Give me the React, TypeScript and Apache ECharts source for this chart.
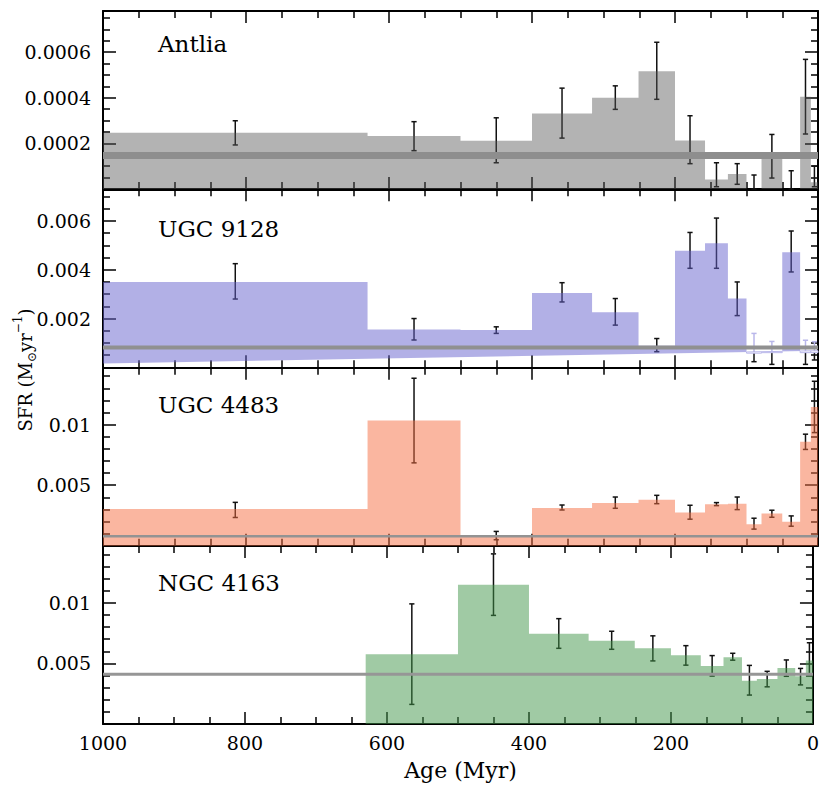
import React, { useEffect, useRef } from "react";
import * as echarts from "echarts";

// ---------- data ----------
const binEdges = [1000, 630, 500, 400, 316, 251, 200, 158, 126, 100, 79, 50, 25, 10, 0];
const galaxyNames = ["Antlia", "UGC 9128", "UGC 4483", "NGC 4163"];

const antliaSfr = [0.000246, 0.000232, 0.000211, 0.000331, 0.0004, 0.000516, 0.000213, 0.000042, 0.000066, 0, 0.00015, 0, 0.000404, 0.00003];
const antliaLo = [0.000193, 0.000168, 0.000115, 0.000223, 0.000349, 0.000393, 0.000111, 0.00001, 0.0000206, 0, 0.000048, 0, 0.000241, 0.00001];
const antliaHi = [0.000299, 0.000295, 0.000312, 0.000442, 0.000452, 0.000643, 0.000321, 0.000115, 0.000111, 0.0000613, 0.000239, 0.00008, 0.000568, 0.0001];
const antliaMean = 0.000147;

const ugc9128Sfr = [0.0035, 0.00155, 0.00153, 0.00305, 0.00226, 0.00088, 0.00478, 0.00509, 0.00282, 0.00058, 0.0006, 0.00472, 0.0006, 0.0006];
const ugc9128Lo = [0.0028, 0.00112, 0.00139, 0.00268, 0.00173, 0.00064, 0.00406, 0.00406, 0.00212, 0.00023, 0.00012, 0.00391, 0.00012, 0.0003];
const ugc9128Hi = [0.00425, 0.002, 0.00166, 0.00347, 0.00282, 0.00118, 0.00553, 0.00612, 0.0035, 0.00139, 0.00106, 0.00559, 0.00111, 0.00105];
const ugc9128Mean = 0.00081;
const ugc9128Base = [0.00016, 0.00068]; // lower edge of the fill at age 1000 and at age 0

const ugc4483Sfr = [0.00303, 0.01033, 0.0008, 0.00311, 0.00352, 0.0038, 0.00274, 0.00342, 0.00347, 0.00178, 0.00266, 0.00197, 0.00858, 0.01145];
const ugc4483Lo = [0.00233, 0.00684, 0.00049, 0.00295, 0.00309, 0.00347, 0.00219, 0.00331, 0.00298, 0.00137, 0.00235, 0.00161, 0.00795, 0.00934];
const ugc4483Hi = [0.00358, 0.01383, 0.00118, 0.00336, 0.00402, 0.00416, 0.00334, 0.00356, 0.00402, 0.00227, 0.00293, 0.00246, 0.00921, 0.01358];
const ugc4483Mean = 0.00078;

const ngc4163Sfr = [null, 0.00576, 0.0115, 0.00745, 0.00688, 0.00625, 0.00568, 0.00478, 0.00551, 0.00358, 0.00372, 0.00462, 0.00394, 0.00524];
const ngc4163Lo = [null, 0.00162, 0.00897, 0.00625, 0.00617, 0.00521, 0.00486, 0.00396, 0.00527, 0.00239, 0.00307, 0.00394, 0.00323, 0.00407];
const ngc4163Hi = [null, 0.00992, 0.01405, 0.0087, 0.00766, 0.00728, 0.00647, 0.00565, 0.00584, 0.00484, 0.00435, 0.00529, 0.00459, 0.00671];
const ngc4163Mean = 0.0041;

const yMaxes = [0.00078, 0.0073, 0.0147, 0.0147];
const yIntervals = [0.0002, 0.002, 0.005, 0.005];
const xTickInterval = 200;
const xLabel = "Age (Myr)";

// ---------- styling ----------
const FONT = "DejaVu Serif";
const panels = [
  { sfr: antliaSfr, lo: antliaLo, hi: antliaHi, mean: antliaMean, base: [0, 0], fill: "rgba(86,86,86,0.45)", meanColor: "#8e8e8e", meanWidth: 7, minorSplit: 4, labelDy: 34 },
  { sfr: ugc9128Sfr, lo: ugc9128Lo, hi: ugc9128Hi, mean: ugc9128Mean, base: ugc9128Base, fill: "rgba(101,97,205,0.5)", meanColor: "#909090", meanWidth: 4, minorSplit: 4, labelDy: 41 },
  { sfr: ugc4483Sfr, lo: ugc4483Lo, hi: ugc4483Hi, mean: ugc4483Mean, base: [0, 0], fill: "rgba(245,109,65,0.5)", meanColor: "#939393", meanWidth: 2.5, minorSplit: 5, labelDy: 39 },
  { sfr: ngc4163Sfr, lo: ngc4163Lo, hi: ngc4163Hi, mean: ngc4163Mean, base: [0, 0], fill: "rgba(65,149,73,0.5)", meanColor: "#969696", meanWidth: 3, minorSplit: 5, labelDy: 38 },
];
const FADED = "#b9b7ea";
const BAR = "#111";

const W = 822;
const H = 786;
const GRID_LEFT = 103;
const GRID_RIGHT = 4;
const GRID_TOPS = [11, 189.3, 367.7, 546];
const GRID_H = 178;

function baseAt(base: number[], age: number) {
  const f = age / 1000;
  return base[0] * f + base[1] * (1 - f);
}

function fmtTick(v: number, interval: number) {
  if (v <= 0) return "";
  const k = v / interval;
  if (Math.abs(k - Math.round(k)) > 1e-6) return "";
  return String(parseFloat(v.toPrecision(6)));
}

function buildOption() {
  const grid: any[] = [];
  const xAxis: any[] = [];
  const yAxis: any[] = [];
  const series: any[] = [];
  const graphic: any[] = [];

  panels.forEach((p, i) => {
    grid.push({ left: GRID_LEFT, right: GRID_RIGHT, top: GRID_TOPS[i], height: GRID_H, containLabel: false });
    const axisLine = { show: true, onZero: false, lineStyle: { color: "#000", width: 2 } };
    const xCommon = {
      gridIndex: i,
      type: "value",
      min: 0,
      max: 1000,
      inverse: true,
      interval: xTickInterval,
      axisLine,
      axisTick: { show: true, inside: true, length: 12, lineStyle: { color: "#000", width: 1.5 } },
      minorTick: { show: true, splitNumber: 4, length: 7, lineStyle: { color: "#000", width: 1.5 } },
      splitLine: { show: false },
      minorSplitLine: { show: false },
    };
    xAxis.push({
      ...xCommon,
      position: "bottom",
      axisLabel: {
        show: i === 3,
        color: "#000",
        fontFamily: FONT,
        fontSize: 19,
        margin: 9,
        formatter: (v: number) => String(v),
      },
    });
    xAxis.push({ ...xCommon, position: "top", axisLabel: { show: false } });

    const interval = yIntervals[i];
    const yCommon = {
      gridIndex: i,
      type: "value",
      min: 0,
      max: yMaxes[i],
      interval,
      axisLine,
      axisTick: { show: true, inside: true, length: 13, lineStyle: { color: "#000", width: 1.5 } },
      minorTick: { show: true, splitNumber: p.minorSplit, length: 7, lineStyle: { color: "#000", width: 1.5 } },
      splitLine: { show: false },
      minorSplitLine: { show: false },
    };
    yAxis.push({
      ...yCommon,
      position: "left",
      axisLabel: {
        show: true,
        color: "#000",
        fontFamily: FONT,
        fontSize: 19,
        margin: 12,
        formatter: (v: number) => fmtTick(v, interval),
      },
    });
    yAxis.push({ ...yCommon, position: "right", axisLabel: { show: false } });

    const bins: number[][] = [];
    const errData: any[] = [];
    p.sfr.forEach((v, k) => {
      if (v === null) return;
      const x0 = binEdges[k];
      const x1 = binEdges[k + 1];
      bins.push([x0, x1, v]);
      const lo = p.lo[k];
      const hi = p.hi[k];
      if (lo !== null && hi !== null) errData.push([(x0 + x1) / 2, lo, hi, v]);
    });

    const base = p.base;
    const hasBase = base[0] !== 0 || base[1] !== 0;

    // error bars (underneath the translucent fill)
    series.push({
      type: "custom",
      xAxisIndex: 2 * i,
      yAxisIndex: 2 * i,
      z: 1,
      silent: true,
      encode: { x: 0, y: 2 },
      data: errData,
      renderItem: (params: any, api: any) => {
        const xm = api.value(0);
        const lo = api.value(1);
        const hi = api.value(2);
        const v = api.value(3);
        const cs = params.coordSys;
        const pHi = api.coord([xm, hi]);
        const pLo = api.coord([xm, lo]);
        const px = pHi[0];
        const yTopRaw = pHi[1];
        const yBotRaw = pLo[1];
        const yTop = Math.max(yTopRaw, cs.y);
        const yBot = Math.min(yBotRaw, cs.y + cs.height);
        const b = baseAt(base, xm);
        const faded = hasBase && v < b;
        const children: any[] = [];
        const cap = 2.6;
        const lw = 1.5;
        if (faded) {
          const yb = Math.min(Math.max(api.coord([xm, b])[1], yTop), yBot);
          children.push({ type: "line", shape: { x1: px, y1: yTop, x2: px, y2: yb }, style: { stroke: FADED, lineWidth: lw } });
          children.push({ type: "line", shape: { x1: px, y1: yb, x2: px, y2: yBot }, style: { stroke: BAR, lineWidth: lw } });
        } else {
          children.push({ type: "line", shape: { x1: px, y1: yTop, x2: px, y2: yBot }, style: { stroke: BAR, lineWidth: lw } });
        }
        if (yTopRaw >= cs.y)
          children.push({ type: "line", shape: { x1: px - cap, y1: yTop, x2: px + cap, y2: yTop }, style: { stroke: faded ? FADED : BAR, lineWidth: lw } });
        if (yBotRaw <= cs.y + cs.height)
          children.push({ type: "line", shape: { x1: px - cap, y1: yBot, x2: px + cap, y2: yBot }, style: { stroke: BAR, lineWidth: lw } });
        return { type: "group", children };
      },
    });

    // filled step histogram: one polygon per panel (no seams), white boxes for bins under the base
    series.push({
      type: "custom",
      xAxisIndex: 2 * i,
      yAxisIndex: 2 * i,
      z: 2,
      silent: true,
      encode: { x: 0, y: 1 },
      data: [[bins[0][0], 0]],
      renderItem: (params: any, api: any) => {
        const cs = params.coordSys;
        const clampY = (pt: number[]) => [pt[0], Math.min(Math.max(pt[1], cs.y), cs.y + cs.height)];
        const top: number[][] = [];
        const boxes: any[] = [];
        bins.forEach(([x0, x1, v]) => {
          const b0 = baseAt(base, x0);
          const b1 = baseAt(base, x1);
          const vv0 = Math.max(v, b0);
          const vv1 = Math.max(v, b1);
          top.push(clampY(api.coord([x0, vv0])));
          top.push(clampY(api.coord([x1, vv1])));
          if (hasBase && v < Math.max(b0, b1)) {
            boxes.push({
              type: "polygon",
              shape: {
                points: [
                  clampY(api.coord([x0, b0])),
                  clampY(api.coord([x0, v])),
                  clampY(api.coord([x1, v])),
                  clampY(api.coord([x1, b1])),
                ],
              },
              style: { fill: "#ffffff", stroke: FADED, lineWidth: 1 },
            });
          }
        });
        const xStart = bins[0][0];
        const xEnd = bins[bins.length - 1][1];
        const pts = [
          clampY(api.coord([xStart, baseAt(base, xStart)])),
          ...top,
          clampY(api.coord([xEnd, baseAt(base, xEnd)])),
        ];
        return {
          type: "group",
          children: [{ type: "polygon", shape: { points: pts }, style: { fill: p.fill } }, ...boxes],
        };
      },
    });

    // mean SFR line
    series.push({
      type: "line",
      xAxisIndex: 2 * i,
      yAxisIndex: 2 * i,
      z: 3,
      silent: true,
      symbol: "none",
      data: [
        [1000, p.mean],
        [0, p.mean],
      ],
      lineStyle: { color: p.meanColor, width: p.meanWidth },
    });

    graphic.push({
      type: "text",
      left: 158,
      top: GRID_TOPS[i] + p.labelDy - 13,
      z: 10,
      style: { text: galaxyNames[i], fill: "#000", font: `23px "${FONT}"` },
    });
  });

  graphic.push({
    type: "text",
    x: (GRID_LEFT + (W - GRID_RIGHT)) / 2,
    y: 770,
    z: 10,
    style: {
      text: xLabel,
      fill: "#000",
      font: `22px "${FONT}"`,
      align: "center",
      verticalAlign: "middle",
    },
  });

  graphic.push({
    type: "text",
    x: 25,
    y: 370,
    rotation: Math.PI / 2,
    z: 10,
    style: {
      text: "{m|SFR (M}{s|⊙}{m|yr}{p|−1}{m|)}",
      align: "center",
      verticalAlign: "middle",
      rich: {
        m: { fontFamily: FONT, fontSize: 18, fill: "#000", lineHeight: 26, verticalAlign: "middle" },
        s: { fontFamily: FONT, fontSize: 12, fill: "#000", lineHeight: 26, verticalAlign: "bottom" },
        p: { fontFamily: FONT, fontSize: 12, fill: "#000", lineHeight: 26, verticalAlign: "top" },
      },
    },
  });

  return {
    animation: false,
    backgroundColor: "#ffffff",
    textStyle: { fontFamily: FONT },
    grid,
    xAxis,
    yAxis,
    series,
    graphic,
  };
}

export default function App() {
  const ref = useRef<HTMLDivElement>(null);
  useEffect(() => {
    if (!ref.current) return;
    const chart = echarts.init(ref.current, undefined, { renderer: "svg", width: W, height: H });
    chart.setOption(buildOption() as any);
    return () => chart.dispose();
  }, []);
  return (
    <div
      ref={ref}
      style={{ position: "fixed", left: 0, top: 0, width: W, height: H, background: "#fff" }}
    />
  );
}
